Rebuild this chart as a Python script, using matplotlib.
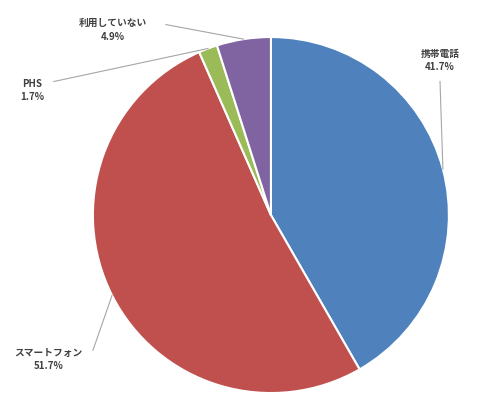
import numpy as np
import matplotlib
matplotlib.use("Agg")
import matplotlib.pyplot as plt

plt.rcParams['font.family'] = ['Noto Sans CJK JP', 'DejaVu Sans']

labels = ["携帯電話", "スマートフォン", "PHS", "利用していない"]
shares = [41.7, 51.7, 1.7, 4.9]
colors = ["#4F81BD", "#C0504D", "#9BBB59", "#8064A2"]
# label text positions (pie radius units)
text_pos = [(0.95, 0.87), (-1.25, -0.81), (-1.34, 0.70), (-0.89, 1.04)]
text_ha = ["center", "center", "center", "center"]

fig = plt.figure(figsize=(5, 4.16), dpi=100)
ax = fig.add_axes([0, 0, 1, 1])
wedges, _ = ax.pie(shares, colors=colors, startangle=90, counterclock=False,
                   radius=1.0, wedgeprops=dict(edgecolor="white", linewidth=1.5))
ax.set_xlim(-1.522, 1.287)
ax.set_ylim(-1.129, 1.208)
ax.set_aspect("equal")
ax.axis("off")

for w, lab, val, (tx, ty), ha in zip(wedges, labels, shares, text_pos, text_ha):
    ang = np.deg2rad((w.theta1 + w.theta2) / 2)
    ex, ey = 1.0 * np.cos(ang), 1.0 * np.sin(ang)
    ax.text(tx, ty, f"{lab}\n{val}%", ha=ha, va="center", fontsize=7,
            fontweight="bold", color="#404040", linespacing=1.4)
    if lab == "携帯電話":
        sx, sy = tx, ty - 0.12
    elif lab == "スマートフォン":
        sx, sy = tx + 0.25, ty + 0.05
    elif lab == "PHS":
        sx, sy = tx + 0.12, ty + 0.05
    else:
        sx, sy = tx + 0.3, ty + 0.03
    ax.plot([sx, ex], [sy, ey], color="#A6A6A6", linewidth=0.8)

fig.savefig("out.png", dpi=100, facecolor="white")
